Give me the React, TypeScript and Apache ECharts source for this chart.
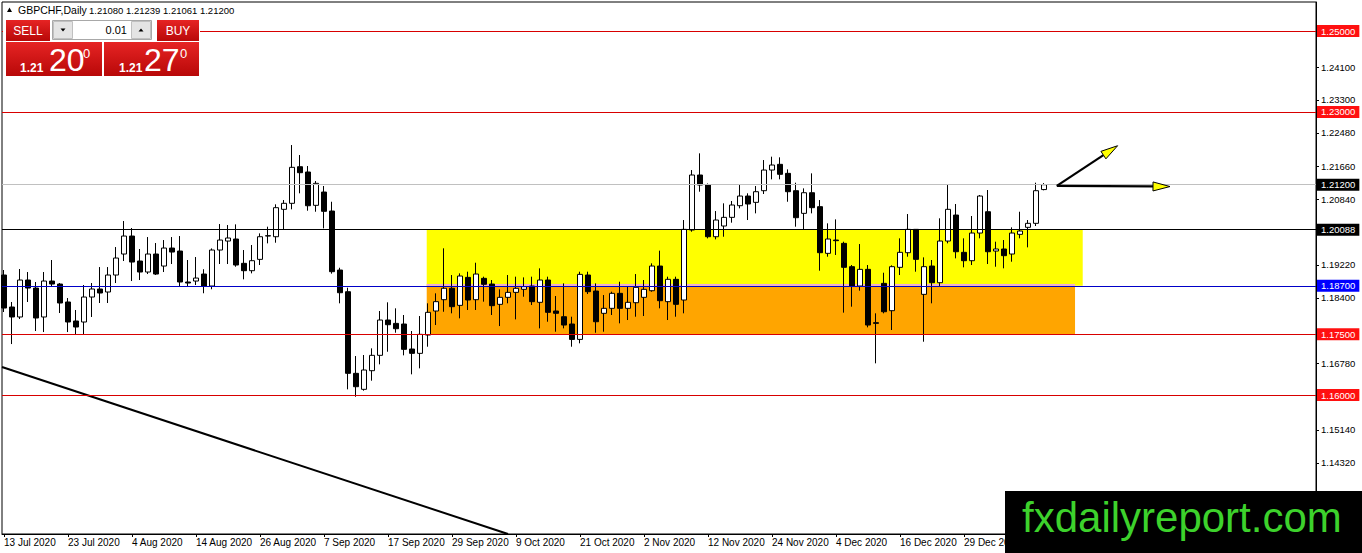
import React, { useEffect, useRef } from "react";
import * as echarts from "echarts";

const symbolTitle = "GBPCHF,Daily";
const dateLabels = [
  "13 Jul 2020", "23 Jul 2020", "4 Aug 2020", "14 Aug 2020", "26 Aug 2020", "7 Sep 2020",
  "17 Sep 2020", "29 Sep 2020", "9 Oct 2020", "21 Oct 2020", "2 Nov 2020", "12 Nov 2020",
  "24 Nov 2020", "4 Dec 2020", "16 Dec 2020", "29 Dec 2020",
];
const dateLabelStep = 8;

const opens = [
  1.18967, 1.18176, 1.17929, 1.18843, 1.18645, 1.17929, 1.18818, 1.18744, 1.183, 1.1783,
  1.17805, 1.18423, 1.18621, 1.18547, 1.18967, 1.19486, 1.19931, 1.19313, 1.19041, 1.19486,
  1.19189, 1.19634, 1.1956, 1.18794, 1.18818, 1.18991, 1.18695, 1.19585, 1.19807, 1.19857,
  1.19256, 1.19074, 1.19354, 1.19931, 1.19914, 1.20591, 1.2074, 1.21645, 1.21514, 1.2069,
  1.21019, 1.20549, 1.1909, 1.18554, 1.16536, 1.1614, 1.16601, 1.16981, 1.17854, 1.17771,
  1.17755, 1.17137, 1.1703, 1.17483, 1.18077, 1.18357, 1.18639, 1.18217, 1.18909, 1.18357,
  1.18885, 1.18744, 1.18242, 1.18415, 1.18538, 1.18613, 1.18695, 1.18292, 1.18843, 1.18077,
  1.17936, 1.17755, 1.17375, 1.18967, 1.18571, 1.1802, 1.18143, 1.18514, 1.18143, 1.18282,
  1.18415, 1.18579, 1.19189, 1.18308, 1.1886, 1.18349, 1.2008, 1.2144, 1.21192, 1.19914,
  1.20179, 1.20393, 1.20681, 1.2092, 1.20764, 1.21052, 1.21563, 1.21704, 1.21481, 1.21052,
  1.20492, 1.21002, 1.20657, 1.19503, 1.19832, 1.1975, 1.19173, 1.18695, 1.19107, 1.17788,
  1.18761, 1.18085, 1.19157, 1.19519, 1.20096, 1.18489, 1.19189, 1.18777, 1.19807, 1.2045,
  1.19528, 1.19321, 1.20005, 1.20532, 1.1956, 1.1961, 1.19486, 1.19973, 1.20146, 1.20245,
  1.2108,
];
const closes = [
  1.18151, 1.17929, 1.18843, 1.18645, 1.17904, 1.18818, 1.18744, 1.18275, 1.17805, 1.17681,
  1.18423, 1.18621, 1.18522, 1.18967, 1.19387, 1.19931, 1.19288, 1.19041, 1.19486, 1.18991,
  1.19634, 1.19535, 1.18794, 1.18769, 1.18892, 1.18695, 1.19585, 1.19832, 1.19882, 1.19214,
  1.19074, 1.19321, 1.19914, 1.1994, 1.20632, 1.2074, 1.2163, 1.21497, 1.2068, 1.21234,
  1.20542, 1.19049, 1.18529, 1.16536, 1.16205, 1.16618, 1.16981, 1.17854, 1.17738, 1.17639,
  1.17129, 1.1703, 1.175, 1.18044, 1.18308, 1.18639, 1.18184, 1.18942, 1.18349, 1.18991,
  1.18737, 1.18209, 1.18415, 1.18538, 1.18638, 1.18679, 1.18308, 1.18843, 1.18044, 1.1802,
  1.1773, 1.17375, 1.18983, 1.18554, 1.17812, 1.18143, 1.18514, 1.18143, 1.18292, 1.18662,
  1.18613, 1.19189, 1.18332, 1.1886, 1.18242, 1.20096, 1.2144, 1.21192, 1.19914, 1.20327,
  1.20393, 1.20698, 1.2092, 1.20723, 1.21027, 1.21563, 1.21687, 1.21457, 1.21027, 1.20384,
  1.21002, 1.20632, 1.19519, 1.19857, 1.19816, 1.19157, 1.18695, 1.19107, 1.1773, 1.17772,
  1.18059, 1.19173, 1.19528, 1.20096, 1.19354, 1.19173, 1.18777, 1.19807, 1.20591, 1.19543,
  1.19321, 1.20005, 1.2092, 1.19543, 1.1961, 1.19445, 1.20005, 1.20055, 1.20245, 1.21052,
  1.212,
];
const lows = [
  1.18052, 1.1726, 1.17879, 1.183, 1.17582, 1.17557, 1.1867, 1.18027, 1.17557, 1.17483,
  1.17483, 1.17929, 1.18275, 1.18275, 1.18769, 1.19313, 1.18818, 1.18843, 1.18991, 1.18967,
  1.19041, 1.19239, 1.18671, 1.18671, 1.1872, 1.18516, 1.18615, 1.19239, 1.19239, 1.19172,
  1.1886, 1.19008, 1.19214, 1.1975, 1.19766, 1.2008, 1.20591, 1.20987, 1.20557, 1.20532,
  1.20121, 1.19, 1.18267, 1.1614, 1.15957, 1.16107, 1.16354, 1.16758, 1.1707, 1.1754,
  1.16981, 1.16511, 1.16659, 1.17194, 1.1773, 1.18059, 1.1802, 1.17896, 1.18102, 1.18102,
  1.18308, 1.17978, 1.17705, 1.18267, 1.1787, 1.1843, 1.18225, 1.17648, 1.17812, 1.17565,
  1.17648, 1.17194, 1.17278, 1.18497, 1.1754, 1.17565, 1.17978, 1.17772, 1.17854, 1.17936,
  1.17953, 1.18554, 1.18143, 1.17854, 1.17936, 1.1802, 1.20038, 1.21027, 1.19873, 1.19849,
  1.19914, 1.20261, 1.20616, 1.20327, 1.20492, 1.2097, 1.21333, 1.21333, 1.20779, 1.20162,
  1.2008, 1.20492, 1.19074, 1.1942, 1.19462, 1.18036, 1.18184, 1.1858, 1.17673, 1.16783,
  1.1802, 1.17607, 1.18967, 1.1942, 1.19049, 1.17318, 1.18267, 1.18678, 1.1975, 1.19379,
  1.19157, 1.19214, 1.19874, 1.19239, 1.19172, 1.19132, 1.19296, 1.19874, 1.19651, 1.20179,
  1.21061,
];
const highs = [
  1.19091, 1.183, 1.19115, 1.19041, 1.18794, 1.19041, 1.19338, 1.18769, 1.18398, 1.18102,
  1.1872, 1.18769, 1.19164, 1.19164, 1.19659, 1.20302, 1.20129, 1.1961, 1.19906, 1.19758,
  1.19832, 1.19906, 1.19931, 1.19338, 1.19412, 1.1911, 1.19625, 1.20228, 1.20203, 1.2022,
  1.19585, 1.19709, 1.19997, 1.20162, 1.20715, 1.20821, 1.22181, 1.21934, 1.21662, 1.21291,
  1.21168, 1.20779, 1.19147, 1.18653, 1.16964, 1.16989, 1.17154, 1.18077, 1.18292, 1.18143,
  1.17978, 1.17582, 1.17953, 1.18267, 1.18514, 1.19627, 1.18967, 1.19008, 1.19049, 1.19271,
  1.18926, 1.18843, 1.18613, 1.18967, 1.18926, 1.18909, 1.18926, 1.19132, 1.18926, 1.18448,
  1.18761, 1.17936, 1.19049, 1.19049, 1.18761, 1.18472, 1.18554, 1.18801, 1.18678, 1.18991,
  1.18843, 1.19256, 1.19569, 1.18926, 1.18926, 1.20327, 1.21563, 1.21976, 1.2123, 1.20549,
  1.2074, 1.20797, 1.21192, 1.20987, 1.21168, 1.2181, 1.21893, 1.21877, 1.2158, 1.2125,
  1.2111, 1.21481, 1.20821, 1.20245, 1.20343, 1.19791, 1.19214, 1.19733, 1.19214, 1.1802,
  1.19024, 1.19206, 1.19874, 1.20475, 1.20096, 1.19404, 1.19338, 1.20369, 1.21192, 1.20723,
  1.19874, 1.20426, 1.20945, 1.21069, 1.19791, 1.19832, 1.20146, 1.20532, 1.20327, 1.2125,
  1.21239,
];

const yTicks = [
  1.2492, 1.241, 1.233, 1.2248, 1.2166, 1.2084, 1.2002, 1.1922, 1.184, 1.1758, 1.1678,
  1.1596, 1.1514, 1.1432,
];

// horizontal levels: value, line colour, label background
const levelValues = [1.25, 1.23, 1.212, 1.20088, 1.187, 1.175, 1.16];
const levelLineColors = ["#d80000", "#d80000", "#c0c0c0", "#000000", "#0000c8", "#d80000", "#d80000"];
const levelLabelColors = ["#ff1010", "#ff1010", "#000000", "#000000", "#0000ff", "#ff1010", "#ff1010"];

// rectangles: [x0, x1, top, bottom]
const yellowZone = [52.84, 134.84, 1.20088, 1.187];
const orangeZone = [52.84, 133.88, 1.187, 1.175];
const pinkStrip = [52.84, 133.88, 1.18745, 1.187];

// trend line points [barIndex, price]
const trendLine = [
  [-0.25, 1.16692],
  [63.0, 1.12563],
];

// arrows
const arrowOrigin = [131.6, 1.2117];
const arrowTips = [
  [139.2, 1.22164],
  [145.75, 1.21155],
];

const X_MIN = -0.25;
const X_MAX = 164;
const Y_MIN = 1.12563;
const Y_MAX = 1.25718;

const FONT = "Liberation Sans, Arial, sans-serif";

// tick labels that sit under a level's price box are covered in the reference
const hiddenUnderBox = (v: number) => levelValues.some((l) => Math.abs(l - v) < 0.0012);

export default function App() {
  const ref = useRef<HTMLDivElement>(null);

  useEffect(() => {
    document.body.style.margin = "0";
    if (!ref.current) return;
    const chart = echarts.init(ref.current, undefined, { renderer: "svg" });

    const candleData = opens.map((o, i) => [i, o, closes[i], lows[i], highs[i]]);

    const markLineData = levelValues.map((v, k) => ({
      yAxis: v,
      lineStyle: { color: levelLineColors[k], width: 1, type: "solid" },
      label: {
        show: true,
        position: "end",
        distance: 1,
        formatter: v.toFixed(5),
        color: "#ffffff",
        backgroundColor: levelLabelColors[k],
        padding: [1, 4, 0, 4],
        fontSize: 9.5,
        lineHeight: 11,
        fontFamily: FONT,
      },
    }));

    const area = (z: number[], color: string) => [
      { xAxis: z[0], yAxis: z[2], itemStyle: { color, opacity: 1 } },
      { xAxis: z[1], yAxis: z[3] },
    ];

    const redGrad = () =>
      new echarts.graphic.LinearGradient(0, 0, 0, 1, [
        { offset: 0, color: "#e62424" },
        { offset: 1, color: "#b80808" },
      ]);

    const last = opens.length - 1;
    const headerValues = [opens[last], highs[last], lows[last], closes[last]]
      .map((v) => v.toFixed(5))
      .join(" ");

    const panel: any[] = [
      { type: "rect", z: 100, shape: { x: 3, y: 17, width: 197, height: 61 }, style: { fill: "#ffffff" } },
      { type: "polygon", z: 101, shape: { points: [[7, 12], [12, 12], [9.5, 7.5]] }, style: { fill: "#000" } },
      {
        type: "text", z: 101, x: 18, y: 10,
        style: { text: symbolTitle, fill: "#000", font: `10.5px ${FONT}`, verticalAlign: "middle" },
      },
      {
        type: "text", z: 101, x: 89, y: 10,
        style: { text: headerValues, fill: "#000", font: `9.5px ${FONT}`, verticalAlign: "middle" },
      },
      { type: "rect", z: 101, shape: { x: 6, y: 20, width: 44, height: 21 }, style: { fill: redGrad() } },
      { type: "rect", z: 101, shape: { x: 157, y: 20, width: 42, height: 21 }, style: { fill: redGrad() } },
      { type: "rect", z: 101, shape: { x: 6, y: 42, width: 96, height: 34 }, style: { fill: redGrad() } },
      { type: "rect", z: 101, shape: { x: 104, y: 42, width: 95, height: 34 }, style: { fill: redGrad() } },
      {
        type: "text", z: 102, x: 28, y: 31,
        style: { text: "SELL", fill: "#fff", font: `12px ${FONT}`, align: "center", verticalAlign: "middle" },
      },
      {
        type: "text", z: 102, x: 178, y: 31,
        style: { text: "BUY", fill: "#fff", font: `12px ${FONT}`, align: "center", verticalAlign: "middle" },
      },
      { type: "rect", z: 101, shape: { x: 52.5, y: 20.5, width: 99, height: 19 }, style: { fill: "#fff", stroke: "#a8a8a8", lineWidth: 1 } },
      { type: "rect", z: 102, shape: { x: 53.5, y: 21.5, width: 19, height: 17 }, style: { fill: "#e4e4e4", stroke: "#c0c0c0", lineWidth: 1 } },
      { type: "rect", z: 102, shape: { x: 131.5, y: 21.5, width: 19, height: 17 }, style: { fill: "#e4e4e4", stroke: "#c0c0c0", lineWidth: 1 } },
      { type: "polygon", z: 103, shape: { points: [[60.5, 28.5], [65.5, 28.5], [63, 31.5]] }, style: { fill: "#000" } },
      { type: "polygon", z: 103, shape: { points: [[138.5, 31.5], [143.5, 31.5], [141, 28.5]] }, style: { fill: "#000" } },
      {
        type: "text", z: 103, x: 127, y: 30,
        style: { text: "0.01", fill: "#000", font: `11px ${FONT}`, align: "right", verticalAlign: "middle" },
      },
      // sell price
      { type: "text", z: 103, x: 20, y: 67.5, style: { text: "1.21", fill: "#fff", font: `bold 12px ${FONT}`, verticalAlign: "middle" } },
      { type: "text", z: 103, x: 49, y: 59.5, style: { text: "20", fill: "#fff", font: `32px ${FONT}`, verticalAlign: "middle" } },
      { type: "text", z: 103, x: 83, y: 53.5, style: { text: "0", fill: "#fff", font: `13px ${FONT}`, verticalAlign: "middle" } },
      // buy price
      { type: "text", z: 103, x: 119, y: 67.5, style: { text: "1.21", fill: "#fff", font: `bold 12px ${FONT}`, verticalAlign: "middle" } },
      { type: "text", z: 103, x: 144, y: 59.5, style: { text: "27", fill: "#fff", font: `32px ${FONT}`, verticalAlign: "middle" } },
      { type: "text", z: 103, x: 180, y: 53.5, style: { text: "0", fill: "#fff", font: `13px ${FONT}`, verticalAlign: "middle" } },
      // watermark
      { type: "rect", z: 110, shape: { x: 1005, y: 491, width: 357, height: 62 }, style: { fill: "#000" } },
      {
        type: "text", z: 111, x: 1022, y: 517,
        style: { text: "fxdailyreport.com", fill: "#3dd22c", font: `42px ${FONT}`, verticalAlign: "middle" },
      },
    ];

    chart.setOption({
      animation: false,
      backgroundColor: "#ffffff",
      textStyle: { fontFamily: FONT },
      grid: {
        left: 2,
        right: 46,
        top: 2,
        bottom: 19,
        show: true,
        borderColor: "#000",
        borderWidth: 1,
        backgroundColor: "#ffffff",
        containLabel: false,
      },
      xAxis: {
        type: "value",
        min: X_MIN,
        max: X_MAX,
        splitLine: { show: false },
        axisLine: { show: true, onZero: false, lineStyle: { color: "#000" } },
        axisTick: {
          show: true,
          length: 3,
          lineStyle: { color: "#000" },
          customValues: dateLabels.map((_, k) => k * dateLabelStep),
        },
        axisLabel: {
          show: true,
          color: "#000",
          fontSize: 10,
          fontFamily: FONT,
          align: "left",
          margin: 3,
          customValues: dateLabels.map((_, k) => k * dateLabelStep),
          formatter: (v: number) => dateLabels[Math.round(v / dateLabelStep)] ?? "",
        },
      },
      yAxis: {
        type: "value",
        position: "right",
        min: Y_MIN,
        max: Y_MAX,
        scale: true,
        splitLine: { show: false },
        axisLine: { show: true, onZero: false, lineStyle: { color: "#000" } },
        axisTick: {
          show: true,
          length: 3,
          lineStyle: { color: "#000" },
          customValues: yTicks,
        },
        axisLabel: {
          show: true,
          color: "#000",
          fontSize: 9.5,
          fontFamily: FONT,
          margin: 5,
          customValues: yTicks.filter((v) => !hiddenUnderBox(v)),
          formatter: (v: number) => v.toFixed(5),
        },
      },
      series: [
        {
          type: "line",
          data: [],
          z: 1,
          silent: true,
          markArea: {
            silent: true,
            data: [
              area(yellowZone, "#ffff00"),
              area(orangeZone, "#ffa500"),
              area(pinkStrip, "#f0a8d8"),
            ],
          },
        },
        {
          type: "line",
          data: [],
          z: 2,
          silent: true,
          markLine: {
            silent: true,
            symbol: ["none", "none"],
            precision: 5,
            data: markLineData,
          },
        },
        {
          type: "line",
          data: trendLine,
          z: 2,
          silent: true,
          showSymbol: false,
          clip: true,
          lineStyle: { color: "#000", width: 2 },
        },
        {
          type: "candlestick",
          data: candleData,
          z: 3,
          barWidth: 5,
          encode: { x: 0, y: [1, 2, 3, 4] },
          itemStyle: {
            color: "#ffffff",
            color0: "#000000",
            borderColor: "#000000",
            borderColor0: "#000000",
            borderWidth: 1,
          },
        },
      ],
      graphic: { elements: panel },
    });

    // arrows positioned in data coordinates
    const toPx = (p: number[]) => chart.convertToPixel({ gridIndex: 0 }, p) as number[];
    const o = toPx(arrowOrigin);
    const arrowEls: any[] = [];
    arrowTips.forEach((tipData) => {
      const t = toPx(tipData);
      const dx = t[0] - o[0];
      const dy = t[1] - o[1];
      const len = Math.sqrt(dx * dx + dy * dy);
      const ux = dx / len;
      const uy = dy / len;
      const nx = -uy;
      const ny = ux;
      const L = 17;
      const W = 4.5;
      const bx = t[0] - L * ux;
      const by = t[1] - L * uy;
      arrowEls.push({
        type: "line",
        z: 50,
        shape: { x1: o[0], y1: o[1], x2: bx, y2: by },
        style: { stroke: "#000", lineWidth: 2.2 },
      });
      arrowEls.push({
        type: "polygon",
        z: 51,
        shape: {
          points: [
            [t[0], t[1]],
            [bx + W * nx, by + W * ny],
            [bx - W * nx, by - W * ny],
          ],
        },
        style: { fill: "#ffff00", stroke: "#000", lineWidth: 1 },
      });
    });
    chart.setOption({ graphic: { elements: [...panel, ...arrowEls] } });

    return () => chart.dispose();
  }, []);

  return <div ref={ref} style={{ width: 1362, height: 553 }} />;
}
